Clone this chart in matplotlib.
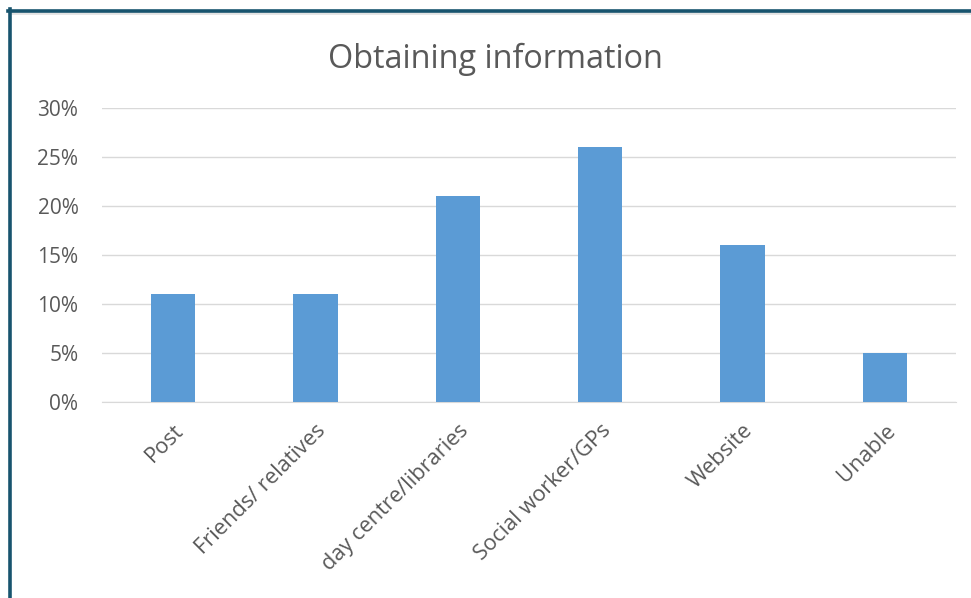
import matplotlib
matplotlib.use("Agg")
import matplotlib.pyplot as plt
from matplotlib.lines import Line2D
from matplotlib.ticker import PercentFormatter

categories = ["Post", "Friends/ relatives", "day centre/libraries",
              "Social worker/GPs", "Website", "Unable"]
values = [11, 11, 21, 26, 16, 5]
yticks = [0, 5, 10, 15, 20, 25, 30]

W, H = 971, 598
fig = plt.figure(figsize=(W / 100, H / 100), dpi=100)
plt.rcParams['font.family'] = ['Open Sans', 'DejaVu Sans']

ax = fig.add_axes([102 / W, 1 - 402 / H, (956 - 102) / W, (402 - 108) / H])
x = range(len(categories))
ax.bar(x, values, width=0.31, color="#5B9BD5", zorder=3)
ax.set_xlim(-0.5, len(categories) - 0.5)
ax.set_ylim(0, 30)
ax.set_yticks(yticks)
ax.yaxis.set_major_formatter(PercentFormatter(decimals=0))
ax.grid(axis="y", color="#D9D9D9", linewidth=1, zorder=0)
for s in ["top", "right", "left"]:
    ax.spines[s].set_visible(False)
ax.spines["bottom"].set_color("#D9D9D9")
ax.tick_params(axis="both", length=0, labelsize=15, labelcolor="#595959")
ax.tick_params(axis="y", pad=17)
ax.set_xticks(list(x))
ax.set_xticklabels(categories, rotation=45, ha="right", va="top",
                   rotation_mode="anchor", fontsize=15.7)
ax.tick_params(axis="x", pad=13)

fig.text(495 / W, 1 - 59 / H, "Obtaining information", ha="center",
         va="center", fontsize=23.3, color="#595959")

# frame around the chart: dark border on top/left with a light inner edge
fig.add_artist(Line2D([12 / W, 1], [1 - 13 / H, 1 - 13 / H],
                      transform=fig.transFigure, color="#E3E3E3", lw=2))
fig.add_artist(Line2D([8 / W, 1], [1 - 10.5 / H, 1 - 10.5 / H],
                      transform=fig.transFigure, color="#18546E", lw=2.6))
fig.add_artist(Line2D([9.5 / W, 9.5 / W], [0, 1 - 9 / H],
                      transform=fig.transFigure, color="#18546E", lw=2.6))

fig.savefig("out.png", dpi=100)
